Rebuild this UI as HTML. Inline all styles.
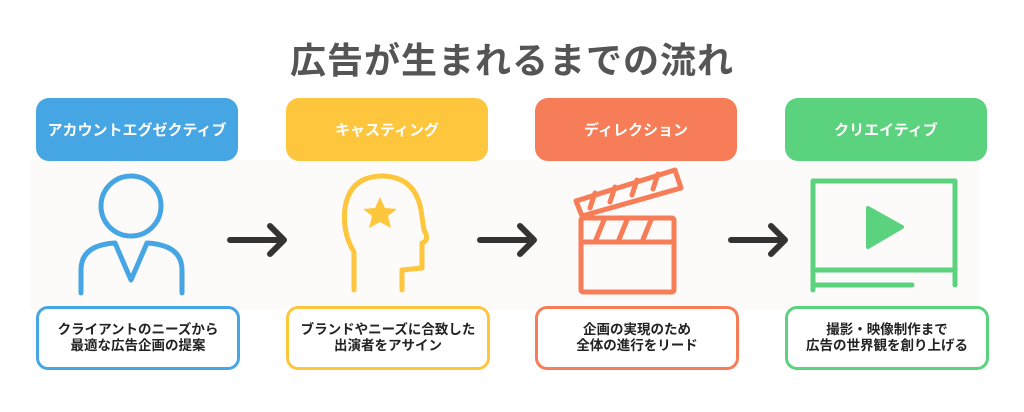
<!DOCTYPE html>
<html><head><meta charset="utf-8"><style>
body{margin:0;width:1024px;height:412px;background:#fff;overflow:hidden;position:relative;font-family:"Liberation Sans","Noto Sans CJK JP",sans-serif;}
.t{position:absolute;left:0;width:1024px;top:32px;text-align:center;font-size:36px;font-weight:bold;color:#555;letter-spacing:1px}
.band{position:absolute;left:30px;top:160px;width:950px;height:150px;background:#fcfbf9}
.h{position:absolute;top:98px;width:202px;height:63px;border-radius:13px;color:#fff;font-size:15px;font-weight:bold;display:flex;align-items:center;justify-content:center}
.b{position:absolute;top:306px;width:198px;height:58px;border-radius:12px;border:3px solid;background:#fff;color:#222;font-size:13.5px;font-weight:bold;display:flex;align-items:center;justify-content:center;text-align:center;line-height:16px}
svg{position:absolute;left:0;top:0}
</style></head><body>
<div class="t">広告が生まれるまでの流れ</div>
<div class="band"></div>
<div class="h" style="left:36px;background:#46a5e3">アカウントエグゼクティブ</div>
<div class="h" style="left:286px;background:#fec63d">キャスティング</div>
<div class="h" style="left:535px;background:#f67d58">ディレクション</div>
<div class="h" style="left:785px;background:#5bd27e">クリエイティブ</div>
<div class="b" style="left:36px;border-color:#46a5e3">クライアントのニーズから<br>最適な広告企画の提案</div>
<div class="b" style="left:286px;border-color:#fec63d">ブランドやニーズに合致した<br>出演者をアサイン</div>
<div class="b" style="left:535px;border-color:#f67d58">企画の実現のため<br>全体の進行をリード</div>
<div class="b" style="left:785px;border-color:#5bd27e">撮影・映像制作まで<br>広告の世界観を創り上げる</div>
<svg width="1024" height="412" fill="none" stroke-linecap="round" stroke-linejoin="round">
<g stroke="#333" stroke-width="6">
<path d="M230 240H283M270 226L284 240L270 254"/>
<path d="M480 240H533M520 226L534 240L520 254"/>
<path d="M731 240H784M771 226L785 240L771 254"/>
</g>
<g stroke="#46a5e3" stroke-width="5">
<circle cx="131" cy="206" r="30"/>
<path d="M81 293V270Q81 245 115 243L131 280L147 243Q182 245 182 270V293"/>
</g>
<g stroke="#fec63d" stroke-width="5">
<path d="M354 290V252Q342 232 345 208Q350 176 383 176Q415 177 421 210L424 230Q430 240 422 243V268L402 270V290"/>
</g>
<path fill="#fec63d" d="M380 197L385 208L397 209L388 216L391 228L380 222L369 228L372 216L363 209L375 208Z"/>
<g stroke="#f67d58" stroke-width="5">
<rect x="581" y="218" width="93" height="74" rx="2"/>
<path d="M581 242H674"/>
<path d="M595 242L604 220M618 242L627 220M642 242L651 220"/>
<path d="M576 201L675 170L681 188L582 216Z"/>
<path d="M590 208L595 193M610 202L615 187M632 195L637 180M653 189L658 174"/>
</g>
<g stroke="#5bd27e" stroke-width="5">
<path d="M813 290V181H955V285"/>
<path d="M813 270H955M813 285H912"/>
</g>
<path fill="#5bd27e" stroke="#5bd27e" stroke-width="4" stroke-linejoin="round" d="M868 208L902 227L868 247Z"/>
</svg>
</body></html>
